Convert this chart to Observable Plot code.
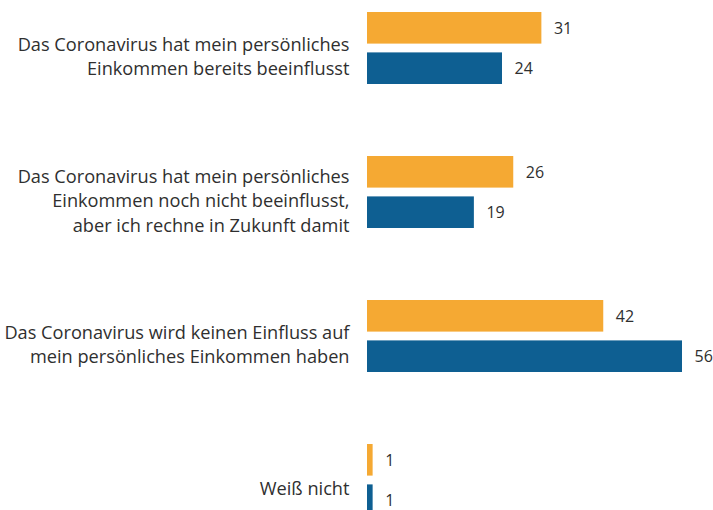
<!DOCTYPE html>
<html>
<head>
<meta charset="utf-8">
<script src="https://cdn.jsdelivr.net/npm/d3@7"></script>
<script src="https://cdn.jsdelivr.net/npm/@observablehq/plot@0.6"></script>
<style>
  html, body { margin: 0; padding: 0; background: #fff; overflow: hidden; }
  #chart svg { display: block; }
</style>
</head>
<body>
<div id="chart"></div>
<script>
const categories = [
  "Das Coronavirus hat mein persönliches\nEinkommen bereits beeinflusst",
  "Das Coronavirus hat mein persönliches\nEinkommen noch nicht beeinflusst,\naber ich rechne in Zukunft damit",
  "Das Coronavirus wird keinen Einfluss auf\nmein persönliches Einkommen haben",
  "Weiß nicht"
];
const seriesOrange = [31, 26, 42, 1];
const seriesBlue = [24, 19, 56, 1];

const colorOrange = "#F5A933";
const colorBlue = "#0E5F92";
const textColor = "#2f2f2f";

const dataOrange = categories.map((c, i) => ({category: c, value: seriesOrange[i]}));
const dataBlue = categories.map((c, i) => ({category: c, value: seriesBlue[i]}));

const font = "'Open Sans', sans-serif";

const chart = Plot.plot({
  width: 713,
  height: 516,
  marginTop: 12,
  marginBottom: 0,
  marginLeft: 367,
  marginRight: 31,
  style: {fontFamily: font, background: "#fff", color: textColor},
  x: {domain: [0, 56], axis: null},
  y: {domain: categories, axis: null, paddingInner: 0.5, paddingOuter: 0, align: 0},
  marks: [
    Plot.barX(dataOrange, {x: "value", y: "category", fill: colorOrange, insetBottom: 40.4}),
    Plot.barX(dataBlue, {x: "value", y: "category", fill: colorBlue, insetTop: 40.4}),
    Plot.text(dataOrange, {x: "value", y: "category", text: d => String(d.value), dy: -20, dx: 12, textAnchor: "start", fontSize: 16, fill: textColor}),
    Plot.text(dataBlue, {x: "value", y: "category", text: d => String(d.value), dy: 20, dx: 12, textAnchor: "start", fontSize: 16, fill: textColor}),
    Plot.text(categories, {x: 0, y: d => d, text: d => d, dx: -18, dy: 7, textAnchor: "end", lineAnchor: "middle", lineHeight: 1.333, fontSize: 18.2, fill: textColor})
  ]
});
document.getElementById("chart").appendChild(chart);
</script>
</body>
</html>
